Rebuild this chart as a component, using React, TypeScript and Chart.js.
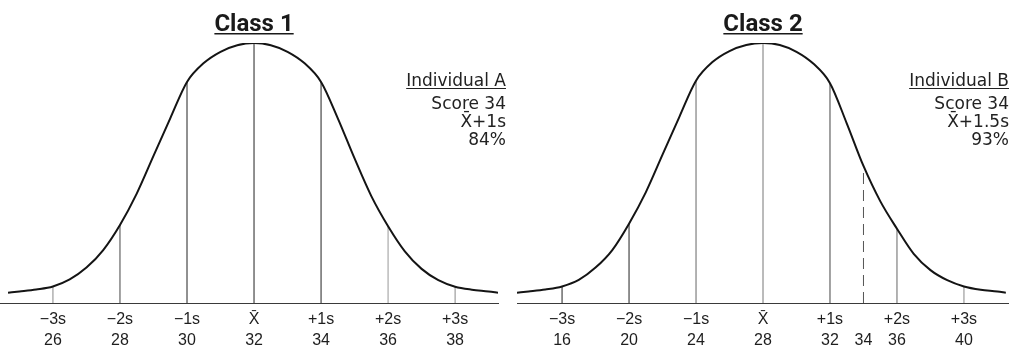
import React, { useEffect, useRef } from "react";
import { Chart, registerables } from "chart.js";

Chart.register(...registerables);

// ---- Class 1: mean 32, s = 2 ----
const class1Scores = [24.66, 25, 25.5, 26, 26.5, 27, 27.5, 28, 28.5, 29, 29.5, 30, 30.5, 31, 31.5, 32, 32.5, 33, 33.5, 34, 34.5, 35, 35.5, 36, 36.5, 37, 37.5, 38, 38.5, 39, 39.28];
const class1Heights = [0.5, 1.0, 1.8, 3.0, 5.8, 10.5, 17.5, 27.5, 40, 55, 70, 84.5, 92, 96.5, 99.1, 100, 99.1, 96.5, 92, 84.5, 70, 54, 39, 27, 17, 10, 5.5, 2.9, 1.7, 1.0, 0.5];
const class1Marks = [26, 28, 30, 32, 34, 36, 38];
const class1Mean = 32;
const class1Note = ["Individual A", "Score 34", "X\u0304+1s", "84%"];

// ---- Class 2: mean 28, s = 4 ----
const class2Scores = [13.31, 14, 15, 16, 17, 18, 19, 20, 21, 22, 23, 24, 25, 26, 27, 28, 29, 30, 31, 32, 33, 34, 35, 36, 37, 38, 39, 40, 41, 42, 42.5];
const class2Heights = [0.5, 1.0, 1.8, 3.0, 5.6, 10.5, 17.5, 28, 40.5, 55.5, 70.5, 85, 92.5, 96.8, 99.2, 100, 99.2, 96.5, 91.8, 84, 68, 51, 37, 26, 16, 9.5, 5.5, 3.0, 1.7, 1.0, 0.5];
const class2Marks = [16, 20, 24, 28, 32, 36, 40];
const class2Mean = 28;
const class2Individual = 34;
const class2Note = ["Individual B", "Score 34", "X\u0304+1.5s", "93%"];

// Sigma labels under each mark
const sigmaLabels = ["\u22123s", "\u22122s", "\u22121s", "X\u0304", "+1s", "+2s", "+3s"];

const TEXT_FONT = "'DejaVu Sans', 'Liberation Sans', sans-serif";
const TICK_FONT = "'Liberation Sans', Arial, sans-serif";
const TITLE_FONT = "Roboto, 'Liberation Sans', sans-serif";
const Y_FLOOR = -3.6;

type PanelSpec = {
  title: string;
  mean: number;
  scores: number[];
  heights: number[];
  marks: number[];
  individual?: number;
  note: string[];
  xMin: number;
  xMax: number;
  width: number;
  left: number;
  padLeft: number;
  padRight: number;
  noteRight: number;
  markShades: string[];
};

const panelText = {
  id: "panelText",
  afterDraw(chart: any, _args: any, opts: any) {
    const { ctx } = chart;
    const xs = chart.scales.x;
    ctx.save();
    ctx.fillStyle = "#1a1a1a";
    ctx.textBaseline = "alphabetic";

    // underlined heading centred over the mean
    ctx.font = `bold 24px ${TITLE_FONT}`;
    ctx.textAlign = "center";
    const cx = xs.getPixelForValue(opts.mean);
    ctx.fillText(opts.title, cx, 31);
    const tw = ctx.measureText(opts.title).width;
    ctx.fillRect(cx - tw / 2, 33, tw, 1.5);

    // individual's note block
    ctx.font = `17px ${TEXT_FONT}`;
    ctx.fillStyle = "#222";
    ctx.textAlign = "right";
    const baselines = [86, 109, 127, 145];
    opts.note.forEach((line: string, i: number) => {
      ctx.fillText(line, opts.noteRight, baselines[i]);
    });
    const nw = ctx.measureText(opts.note[0]).width;
    ctx.fillRect(opts.noteRight - nw, 88, nw, 1);
    ctx.restore();
  },
};

function buildConfig(spec: PanelSpec): any {
  const heightAt = (s: number) => spec.heights[spec.scores.indexOf(s)];
  const curve = {
    data: spec.scores.map((x, i) => ({ x, y: spec.heights[i] })),
    borderColor: "#141414",
    borderWidth: 2,
    cubicInterpolationMode: "monotone",
    pointRadius: 0,
    showLine: true,
  };
  const guides = spec.marks.map((s, i) => ({
    data: [
      { x: s, y: Y_FLOOR },
      { x: s, y: heightAt(s) },
    ],
    borderColor: spec.markShades[i],
    borderWidth: 1,
    pointRadius: 0,
    showLine: true,
  }));
  const datasets: any[] = [curve, ...guides];
  if (spec.individual !== undefined) {
    datasets.push({
      data: [
        { x: spec.individual, y: Y_FLOOR },
        { x: spec.individual, y: heightAt(spec.individual) },
      ],
      borderColor: "#555",
      borderWidth: 1,
      borderDash: [11, 6],
      pointRadius: 0,
      showLine: true,
    });
  }

  const tickValues = [...spec.marks];
  if (spec.individual !== undefined) tickValues.push(spec.individual);
  tickValues.sort((a, b) => a - b);

  return {
    type: "scatter",
    data: { datasets },
    options: {
      responsive: false,
      animation: false,
      events: [],
      layout: { padding: { top: 43, left: spec.padLeft, right: spec.padRight, bottom: 0 } },
      plugins: {
        legend: { display: false },
        tooltip: { enabled: false },
        panelText: { title: spec.title, mean: spec.mean, note: spec.note, noteRight: spec.noteRight },
      },
      scales: {
        x: {
          type: "linear",
          min: spec.xMin,
          max: spec.xMax,
          grid: { display: false, drawTicks: false },
          border: { display: true, color: "#3a3a3a", width: 1 },
          afterBuildTicks: (scale: any) => {
            scale.ticks = tickValues.map((v) => ({ value: v }));
          },
          afterFit: (scale: any) => {
            scale.height = 46;
          },
          ticks: {
            autoSkip: false,
            maxRotation: 0,
            padding: 6,
            color: "#1e1e1e",
            font: { family: TICK_FONT, size: 16, lineHeight: "21px" },
            callback: (value: number) => {
              const k = spec.marks.indexOf(value);
              if (k >= 0) return [sigmaLabels[k], String(value)];
              return ["", String(value)];
            },
          },
        },
        y: {
          display: false,
          min: Y_FLOOR,
          max: 100,
        },
      },
    },
    plugins: [panelText],
  };
}

const panels: PanelSpec[] = [
  {
    title: "Class 1",
    mean: class1Mean,
    scores: class1Scores,
    heights: class1Heights,
    marks: class1Marks,
    note: class1Note,
    xMin: 24.42,
    xMax: 39.28,
    width: 512,
    left: 0,
    padLeft: 0,
    padRight: 14,
    noteRight: 506,
    markShades: ["#888", "#444", "#222", "#222", "#222", "#999", "#888"],
  },
  {
    title: "Class 2",
    mean: class2Mean,
    scores: class2Scores,
    heights: class2Heights,
    marks: class2Marks,
    individual: class2Individual,
    note: class2Note,
    xMin: 13.31,
    xMax: 42.63,
    width: 502,
    left: 512,
    padLeft: 5,
    padRight: 6,
    noteRight: 497,
    markShades: ["#222", "#222", "#666", "#777", "#444", "#666", "#888"],
  },
];

function Panel({ spec }: { spec: PanelSpec }) {
  const ref = useRef<HTMLCanvasElement | null>(null);
  useEffect(() => {
    if (!ref.current) return;
    const chart = new Chart(ref.current, buildConfig(spec));
    return () => chart.destroy();
  }, [spec]);
  return (
    <canvas
      ref={ref}
      width={spec.width}
      height={349}
      style={{ position: "absolute", left: spec.left, top: 0, display: "block" }}
    />
  );
}

export default function App() {
  return (
    <div style={{ position: "absolute", left: 0, top: 0, width: 1014, height: 349, background: "#fff" }}>
      {panels.map((p) => (
        <Panel key={p.title} spec={p} />
      ))}
    </div>
  );
}
